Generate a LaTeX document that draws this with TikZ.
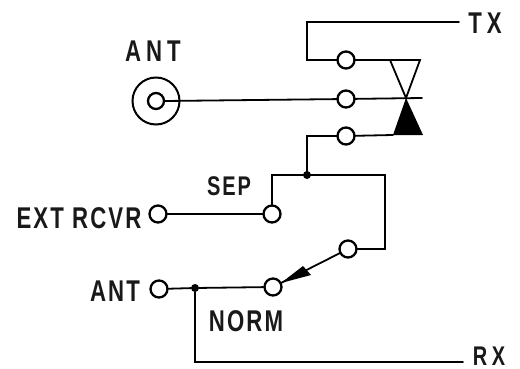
\documentclass[tikz,border=0pt]{standalone}
\usepackage{fontspec}
\setmainfont{Liberation Sans}
\newfontfamily\labfont[FakeStretch=0.74,LetterSpace=7,BoldFont={Liberation Sans Bold}]{Liberation Sans Bold}
\usetikzlibrary{calc}
\begin{document}
\begin{tikzpicture}[x=1pt,y=-1pt,line cap=round,line join=miter,
 term/.style={circle,draw,line width=2.3pt,fill=white,minimum size=17pt,inner sep=0pt},
 wire/.style={line width=1.8pt},
 junct/.style={circle,fill=black,minimum size=8pt,inner sep=0pt},
 lab/.style={font=\labfont\fontsize{30}{30}\selectfont,inner sep=0pt,text=black!90}]
\useasboundingbox (0,0) rectangle (520,369);
\node[circle,draw,line width=2pt,minimum size=47pt,inner sep=0pt] (coaxo) at (156,101) {};
\node[circle,draw,line width=2.3pt,minimum size=16pt,inner sep=0pt] (coaxi) at (156,101) {};
\coordinate (txe) at (459,22);
\coordinate (txc) at (307,22);
\coordinate (tl) at (390,60);
\coordinate (tr) at (420,60);
\coordinate (apex) at (406,98);
\coordinate (bl) at (393,135);
\coordinate (br) at (423,135);
\coordinate (m) at (422,98);
\coordinate (sc) at (272,175);
\coordinate (rc) at (385,175);
\coordinate (rd) at (385,249);
\coordinate (rxc) at (195,362);
\coordinate (rxe) at (463,362);
\coordinate (txd) at (307,60);
\coordinate (t3c) at (307,136);
\coordinate (t1) at (346,60);
\coordinate (t2) at (346,99);
\coordinate (t3) at (346,136);
\draw[wire] (txe) -- (txc) -- (txd) -- (t1);
\draw[wire] (t1) -- (tl) -- (apex) -- (tr) -- (tl);
\draw[wire] (coaxi.east) -- (t2);
\draw[wire] (t2) -- (m);
\draw[wire] (t3) -- (bl);
\fill (bl) -- (apex) -- (br) -- cycle;
\draw[wire] (t3) -- (t3c) -- (307,175);
\node[term] (nt1) at (t1) {};
\node[term] (nt2) at (t2) {};
\node[term] (nt3) at (t3) {};
\node[term] (sep) at (272,214) {};
\node[term] (ext) at (158,214) {};
\node[term] (sw) at (348,249) {};
\node[term] (norm) at (273,287) {};
\node[term] (ant) at (159,289) {};
\node[junct] (j1) at (307,175) {};
\node[junct] (j2) at (195,288) {};
\draw[wire] (sep) -- (sc) -- (rc) -- (rd) -- (sw);
\draw[wire] (ext) -- (sep);
\draw[wire] (ant) -- (j2) -- (norm);
\draw[wire] (j2) -- (rxc) -- (rxe);
\draw[wire] (sw) -- (norm);
\fill ($(norm)+(8,-4)$) -- ($(norm)+(30,-21)$) -- ($(norm)+(38,-12)$) -- cycle;
\node[lab] (a1) at (153,51.5) {A\,N\,T};
\node[lab] (tx) at (485,23) {T\,X};
\node[lab,font=\labfont\fontsize{27}{27}\selectfont] (rx) at (489,356) {R\,X};
\node[lab] (extl) at (79,218.5) {EXT RCVR};
\node[lab] (antl) at (115,291.5) {ANT};
\node[lab,font=\labfont\fontsize{27}{27}\selectfont] (sepl) at (229,186.5) {SEP};
\node[lab] (norml) at (246,321.5) {NORM};
\end{tikzpicture}
\end{document}
